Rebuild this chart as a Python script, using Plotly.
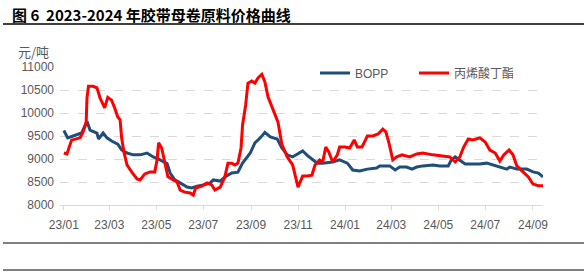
import plotly.graph_objects as go

# BOPP price (元/吨)
bopp_dates = ["2023-01-01","2023-01-06","2023-01-13","2023-01-24","2023-01-31","2023-02-04","2023-02-13","2023-02-15",
    "2023-02-21","2023-02-26","2023-03-04","2023-03-12","2023-03-17","2023-03-24","2023-04-01","2023-04-10",
    "2023-04-19","2023-04-27","2023-05-06","2023-05-15","2023-05-19","2023-05-25","2023-06-01","2023-06-10",
    "2023-06-16","2023-06-23","2023-07-01","2023-07-10","2023-07-14","2023-07-23","2023-07-29","2023-08-07",
    "2023-08-15","2023-08-21","2023-08-31","2023-09-06","2023-09-13","2023-09-19","2023-09-26","2023-10-05",
    "2023-10-11","2023-10-18","2023-10-25","2023-11-01","2023-11-07","2023-11-14","2023-11-20","2023-11-26",
    "2023-12-03","2023-12-16","2023-12-25","2024-01-04","2024-01-11","2024-01-20","2024-01-30","2024-02-11",
    "2024-02-15","2024-02-28","2024-03-06","2024-03-12","2024-03-21","2024-03-28","2024-04-03","2024-04-11",
    "2024-04-24","2024-05-03","2024-05-14","2024-05-18","2024-05-23","2024-05-29","2024-06-05","2024-06-15",
    "2024-06-24","2024-07-03","2024-07-11","2024-07-20","2024-07-29","2024-08-02","2024-08-11","2024-08-24",
    "2024-09-01","2024-09-08","2024-09-14"]
bopp_values = [9620,9460,9500,9565,9820,9630,9565,9435,
    9565,9460,9390,9325,9200,9130,9090,9090,
    9130,9045,8980,8900,8695,8545,8480,8390,
    8370,8410,8435,8480,8545,8520,8610,8695,
    8715,8910,9130,9350,9460,9580,9480,9435,
    9240,9090,9045,9110,9175,9065,8980,8910,
    8910,8935,8980,8910,8760,8740,8780,8805,
    8850,8850,8760,8825,8825,8780,8825,8850,
    8870,8850,8850,8980,9045,8980,8890,8890,
    8890,8910,8870,8825,8780,8825,8780,8780,
    8720,8695,8610]

# 丙烯酸丁酯 price (元/吨)
ba_dates = ["2023-01-01","2023-01-05","2023-01-11","2023-01-18","2023-01-22","2023-01-26","2023-01-30","2023-01-31",
    "2023-02-02","2023-02-08","2023-02-13","2023-02-17","2023-02-21","2023-02-23","2023-02-27","2023-03-04",
    "2023-03-08","2023-03-12","2023-03-15","2023-03-17","2023-03-20","2023-03-24","2023-03-30","2023-04-06",
    "2023-04-10","2023-04-16","2023-04-23","2023-04-29","2023-05-02","2023-05-04","2023-05-08","2023-05-12",
    "2023-05-16","2023-05-23","2023-05-28","2023-06-01","2023-06-07","2023-06-14","2023-06-18","2023-06-21",
    "2023-06-29","2023-07-06","2023-07-12","2023-07-16","2023-07-23","2023-07-29","2023-08-02","2023-08-07",
    "2023-08-11","2023-08-15","2023-08-19","2023-08-21","2023-08-25","2023-08-28","2023-09-02","2023-09-06",
    "2023-09-10","2023-09-15","2023-09-19","2023-09-23","2023-09-28","2023-10-02","2023-10-06","2023-10-11",
    "2023-10-18","2023-10-25","2023-11-01","2023-11-07","2023-11-13","2023-11-19","2023-11-23","2023-11-29",
    "2023-12-03","2023-12-07","2023-12-11","2023-12-16","2023-12-22","2023-12-25","2024-01-01","2024-01-07",
    "2024-01-13","2024-01-17","2024-01-23","2024-01-30","2024-02-06","2024-02-13","2024-02-19","2024-02-23",
    "2024-02-27","2024-03-03","2024-03-08","2024-03-15","2024-03-25","2024-04-03","2024-04-11","2024-04-24",
    "2024-05-07","2024-05-16","2024-05-23","2024-05-29","2024-06-03","2024-06-09","2024-06-15","2024-06-24",
    "2024-07-01","2024-07-07","2024-07-14","2024-07-20","2024-07-25","2024-08-01","2024-08-06","2024-08-11",
    "2024-08-19","2024-08-26","2024-09-01","2024-09-08","2024-09-14"]
ba_values = [9130,9110,9410,9435,9460,9590,9800,10325,
    10580,10580,10545,10325,10175,10110,10340,10280,
    10110,9915,9850,9460,9150,8870,8720,8565,
    8545,8675,8720,8720,8980,9350,9240,8910,
    8620,8545,8500,8325,8280,8260,8215,8370,
    8410,8480,8435,8325,8390,8610,8910,8910,
    8870,8910,9240,9740,10175,10650,10695,10650,
    10760,10840,10675,10350,10130,9955,9800,9320,
    9045,8870,8390,8630,8630,8650,8870,8980,
    8935,9260,9150,8935,9090,9260,9260,9240,
    9415,9260,9260,9500,9500,9545,9650,9590,
    9350,8980,9045,9090,9045,9110,9130,9090,
    9065,9045,8935,9045,9260,9435,9415,9460,
    9370,9195,9130,8955,9090,9195,9090,8850,
    8720,8610,8455,8420,8420]

tick_dates = ["2023-01-01","2023-03-01","2023-05-01","2023-07-01","2023-09-01","2023-11-01",
              "2024-01-01","2024-03-01","2024-05-01","2024-07-01","2024-09-01"]
tick_labels = ["23/01","23/03","23/05","23/07","23/09","23/11","24/01","24/03","24/05","24/07","24/09"]
y_ticks = [8000, 8500, 9000, 9500, 10000, 10500, 11000]
y_labels = ["8000", "8500", "9000", "9500", "10000", "10500", "11000"]

fig = go.Figure()
fig.add_trace(go.Scatter(x=bopp_dates, y=bopp_values, mode="lines", name="BOPP",
                         line=dict(color="#1F4E79", width=3)))
fig.add_trace(go.Scatter(x=ba_dates, y=ba_values, mode="lines", name="丙烯酸丁酯",
                         line=dict(color="#FF0000", width=3)))

L, R, T, B = 60, 44, 67, 72
W, H = 587, 277
pw, ph = W - L - R, H - T - B

def px_x(X):
    return (X - L) / pw

def px_y(Y):
    return (H - B - Y) / ph

fig.update_layout(
    width=W, height=H,
    margin=dict(l=L, r=R, t=T, b=B),
    paper_bgcolor="white", plot_bgcolor="white",
    font=dict(family="Liberation Sans, Noto Sans CJK SC", size=12, color="#595959"),
    showlegend=True,
    legend=dict(orientation="h", x=px_x(315), xanchor="left", y=px_y(73), yanchor="middle",
                font=dict(size=12, color="#595959", family="Liberation Sans, Noto Sans CJK SC"),
                bgcolor="rgba(0,0,0,0)", itemwidth=30, entrywidth=54, entrywidthmode="pixels",
                tracegroupgap=0),
    xaxis=dict(type="date", range=["2022-12-27", "2024-09-14"], tickvals=tick_dates, ticktext=tick_labels,
               showgrid=False, showline=True, linecolor="#D9D9D9", linewidth=1,
               ticks="outside", ticklen=4, tickcolor="#D9D9D9", ticklabelstandoff=5,
               tickfont=dict(size=12, color="#595959"), zeroline=False, fixedrange=True),
    yaxis=dict(range=[8000, 11000], tickvals=y_ticks, ticktext=y_labels, showgrid=True, gridcolor="#D9D9D9",
               griddash="dash", gridwidth=1, showline=False, zeroline=False, ticks="",
               ticklabelstandoff=5, tickfont=dict(size=12, color="#595959"), fixedrange=True),
    annotations=[
        dict(text="<b>图 6  2023-2024 年胶带母卷原料价格曲线</b>", xref="paper", yref="paper",
             x=px_x(10), y=px_y(14), xanchor="left", yanchor="middle", showarrow=False,
             font=dict(family="Noto Sans CJK SC", size=15, color="#000000")),
        dict(text="元/吨", xref="paper", yref="paper", x=px_x(16), y=px_y(52),
             xanchor="left", yanchor="middle", showarrow=False,
             font=dict(family="Noto Sans CJK SC", size=13, color="#595959")),
    ],
    shapes=[
        dict(type="line", xref="paper", yref="paper", x0=px_x(3), x1=px_x(584),
             y0=px_y(24), y1=px_y(24), line=dict(color="#000000", width=1.5)),
        dict(type="line", xref="paper", yref="paper", x0=px_x(3), x1=px_x(584),
             y0=px_y(243), y1=px_y(243), line=dict(color="#000000", width=1)),
        dict(type="line", xref="paper", yref="paper", x0=px_x(3), x1=px_x(584),
             y0=px_y(270), y1=px_y(270), line=dict(color="#000000", width=1)),
    ],
)

fig.write_html("out.html")
